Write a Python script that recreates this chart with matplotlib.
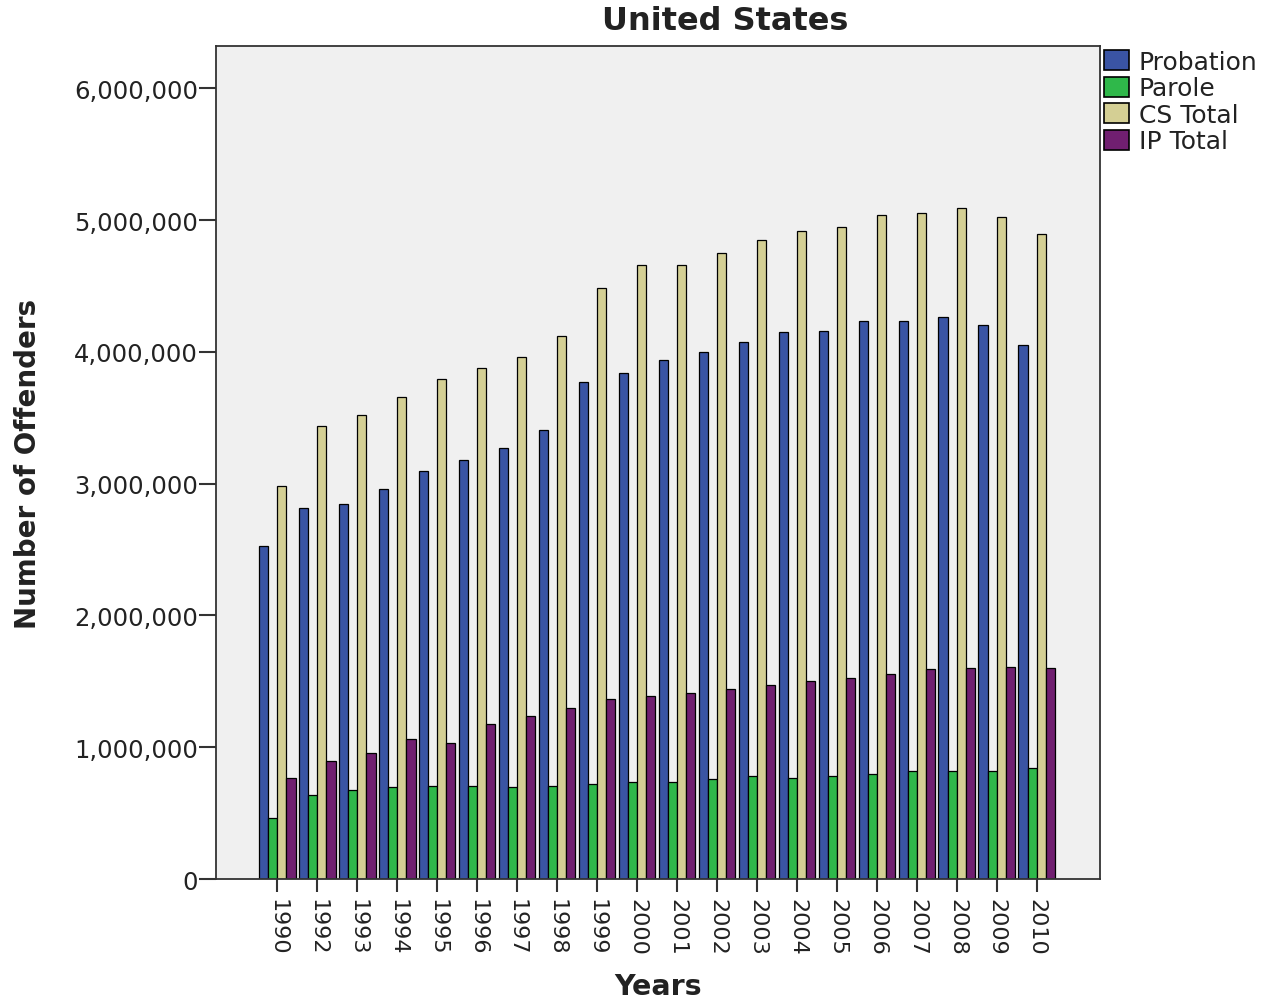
import numpy as np
import matplotlib
matplotlib.use("Agg")
from matplotlib import pyplot as plt
import matplotlib.patches as patches
from matplotlib.ticker import FuncFormatter

years = ["1990", "1992", "1993", "1994", "1995", "1996", "1997", "1998", "1999", "2000",
         "2001", "2002", "2003", "2004", "2005", "2006", "2007", "2008", "2009", "2010"]

probation = [2528000, 2812000, 2847000, 2963000, 3097000, 3180000, 3270000, 3410000, 3770000, 3840000,
             3940000, 4000000, 4075000, 4150000, 4160000, 4231000, 4231000, 4265000, 4204000, 4055000]
parole = [463000, 639000, 675000, 700000, 705000, 705000, 700000, 705000, 720000, 735000,
          735000, 760000, 780000, 765000, 785000, 795000, 820000, 820000, 820000, 840000]
cs_total = [2984000, 3440000, 3520000, 3660000, 3795000, 3880000, 3960000, 4120000, 4485000, 4655000,
            4662000, 4752000, 4850000, 4915000, 4946000, 5037000, 5054000, 5090000, 5020000, 4894000]
ip_total = [766000, 893000, 953000, 1060000, 1030000, 1180000, 1240000, 1300000, 1365000, 1390000,
            1410000, 1440000, 1470000, 1500000, 1523000, 1557000, 1591000, 1604000, 1611000, 1604000]

series = [("Probation", probation, "#3a54a4"),
          ("Parole", parole, "#2fb84a"),
          ("CS Total", cs_total, "#d4cf94"),
          ("IP Total", ip_total, "#701f70")]

txt = "#222222"
fig = plt.figure(figsize=(12.66, 10.03), dpi=100)
ax = fig.add_axes([0.1706, 0.1226, 0.6983, 0.8305])
ax.set_facecolor("#f0f0f0")

x = np.arange(len(years))
w = 0.23
for i, (name, vals, col) in enumerate(series):
    ax.bar(x + (i - 1.5) * w, vals, width=w, color=col, edgecolor="black",
           linewidth=0.9, label=name)

ax.set_xlim(-1.53, 20.58)
ax.set_ylim(0, 6320000)
ax.set_yticks(np.arange(0, 6000001, 1000000))
ax.yaxis.set_major_formatter(FuncFormatter(lambda v, p: "{:,.0f}".format(v)))
ax.set_xticks(x)
ax.set_xticklabels(years, rotation=270)
ax.tick_params(axis="both", direction="out", width=1.5, color="#333333", labelcolor=txt)
ax.tick_params(axis="y", labelsize=17.5, length=12, pad=1)
ax.tick_params(axis="x", labelsize=16, length=9.5, pad=4)
for s in ax.spines.values():
    s.set_color("#333333")
    s.set_linewidth(1.3)

ax.set_ylabel("Number of Offenders", fontsize=20, fontweight="bold", color=txt)
ax.yaxis.set_label_coords(-0.197, 0.5)
ax.set_xlabel("Years", fontsize=20.5, fontweight="bold", color=txt)
ax.xaxis.set_label_coords(0.5, -0.112)
fig.text(725 / 1266, 1 - 21 / 1003, "United States", fontsize=23, fontweight="bold",
         color=txt, ha="center", va="center")

handles = [patches.Patch(facecolor=c, edgecolor="black", linewidth=1.2) for _, _, c in series]
leg = ax.legend(handles, [s[0] for s in series], loc="upper left", bbox_to_anchor=(1.0, 1.0),
                frameon=False, fontsize=18, handlelength=1.0, handleheight=0.85,
                handletextpad=0.4, labelspacing=0.1, borderaxespad=0.15, borderpad=0.0)
for t in leg.get_texts():
    t.set_color(txt)

fig.savefig("out.png", dpi=100)
